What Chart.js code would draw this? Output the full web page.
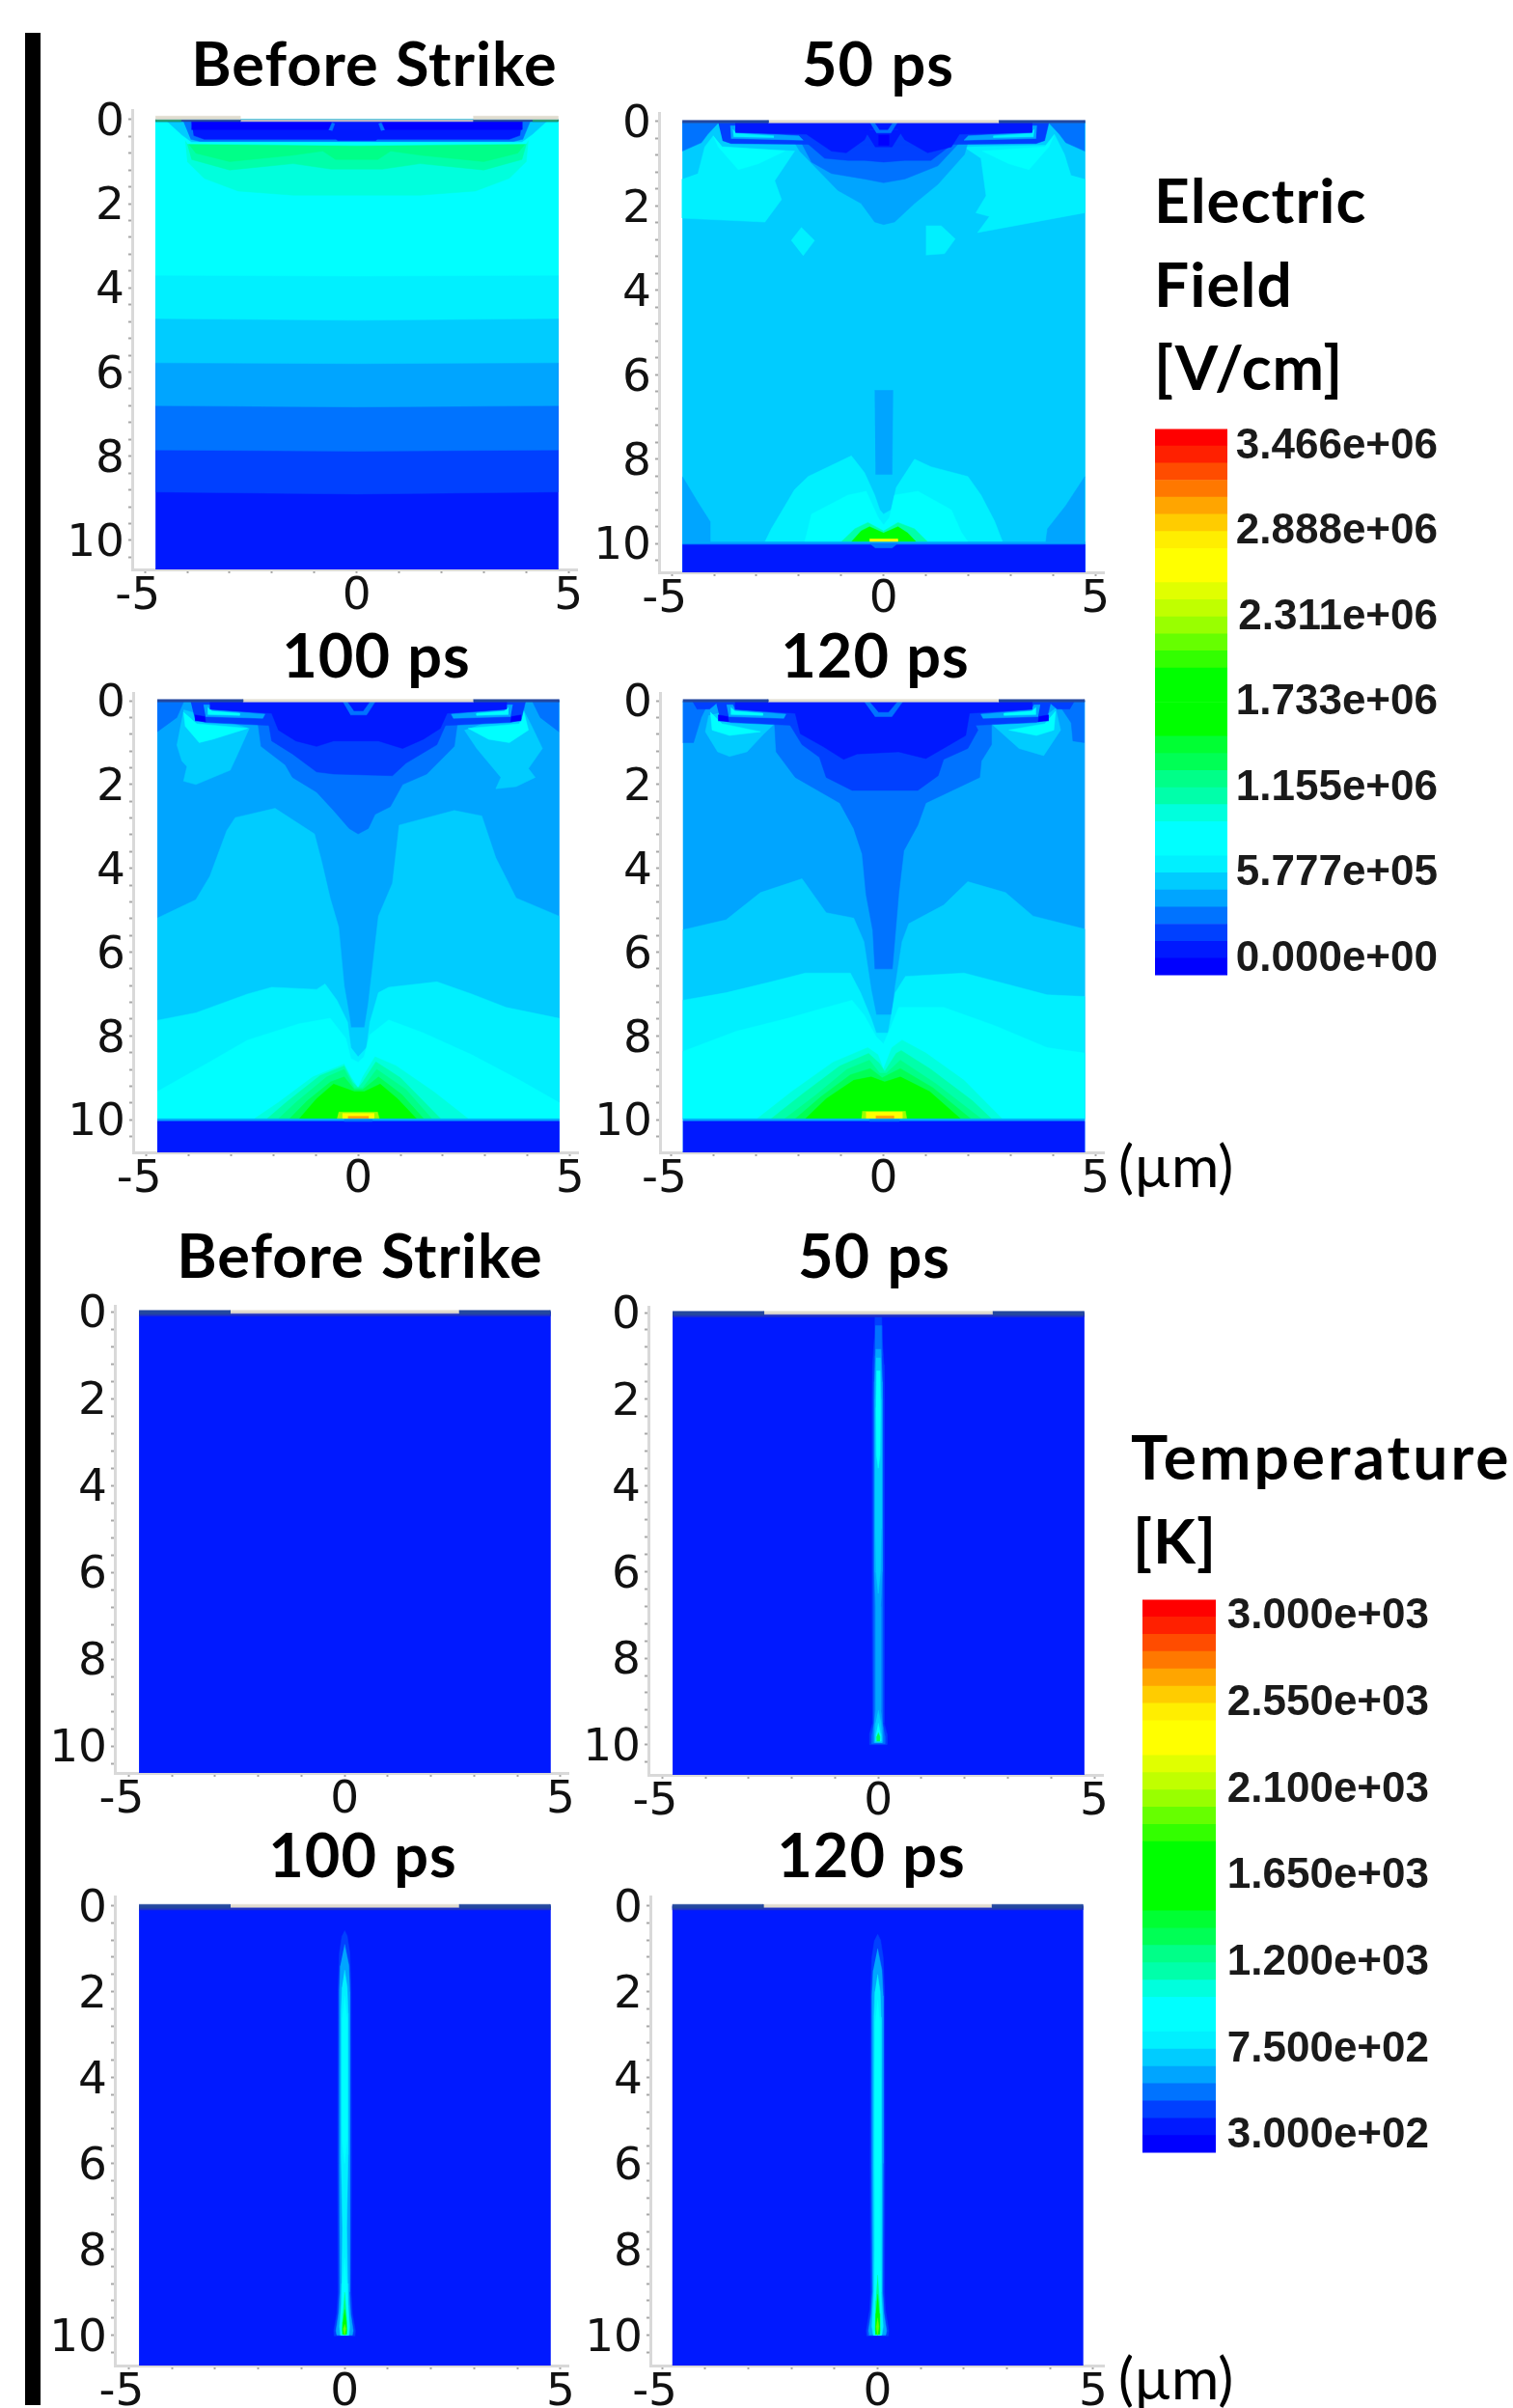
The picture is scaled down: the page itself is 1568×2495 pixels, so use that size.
<!DOCTYPE html>
<html>
<head>
<meta charset="utf-8">
<title>Electric field and temperature</title>
<script src="https://cdn.jsdelivr.net/npm/chart.js@4"></script>
<style>
  html, body { margin: 0; padding: 0; background: #fff; }
  body { position: relative; width: 1568px; height: 2495px; overflow: hidden; }
  canvas { position: absolute; filter: blur(0.6px); }
  .label { position: absolute; white-space: nowrap; color: #000; font-family: Lato, sans-serif; transform: translateY(-50%); filter: blur(0.4px); }
  .title { font-weight: 700; font-size: 63px; letter-spacing: 1px; word-spacing: 1px; transform: translate(-50%, -50%); }
  .heading { font-weight: 700; font-size: 64px; letter-spacing: 1px; }
  .wide { font-weight: 700; font-size: 64px; letter-spacing: 3px; }
  .unit { font-size: 60px; }
  #bar { position: absolute; left: 26px; top: 34px; width: 16px; height: 2458px; background: #000; }
</style>
</head>
<body>
<div id="bar"></div>
<script>
// colour bands of the scale, lowest first
const bandColors = ['#0000ff', '#0019ff', '#0040ff', '#0073ff', '#00a5ff', '#00ccff', '#00f0ff', '#00ffff',
  '#00ffff', '#00ffdd', '#00ffaa', '#00ff88', '#00ff55', '#00ff33', '#00ff00', '#00ff00',
  '#00ff00', '#00ff00', '#33ff00', '#66ff00', '#99ff00', '#c0ff00', '#e0ff00', '#ffff00',
  '#ffff00', '#ffee00', '#ffcc00', '#ffa500', '#ff7800', '#ff4c00', '#ff2000', '#ff0000'];
const surfaceColors = { oxide: '#e0dccf', steel: '#b6b6c6', metal: '#24489f', contact: '#1e9a70', liner: '#1f30c4' };

const efBandEdges = [-123750, -8314, 107122, 222558, 337994, 453430, 568866, 684302, 799738, 915174, 1030610,
  1146046, 1261482, 1376918, 1492354, 1607790, 1723226, 1838662, 1954098, 2069534, 2184970, 2300406, 2415842,
  2531278, 2646714, 2762150, 2877586, 2993022, 3108458, 3223894, 3339330, 3454766, 3570202];
const efTickValues = [0, 577700, 1155000, 1733000, 2311000, 2888000, 3466000];
const efTickLabels = ['0.000e+00', '5.777e+05', '1.155e+06', '1.733e+06', '2.311e+06', '2.888e+06', '3.466e+06'];

const tempBandEdges = [202, 292, 382, 472, 562, 652, 742, 832, 922, 1012, 1101, 1191, 1281, 1371, 1461, 1551, 1641,
  1731, 1821, 1911, 2001, 2090, 2180, 2270, 2360, 2450, 2540, 2630, 2720, 2810, 2900, 2990, 3080];
const tempTickValues = [300, 750, 1200, 1650, 2100, 2550, 3000];
const tempTickLabels = ['3.000e+02', '7.500e+02', '1.200e+03', '1.650e+03', '2.100e+03', '2.550e+03', '3.000e+03'];

const xTicks = [-5, -4, -3, -2, -1, 0, 1, 2, 3, 4, 5];
const xTickLabels = [-5, 0, 5];
const yTicks = [0, 0.4, 0.8, 1.2, 1.6, 2, 2.4, 2.8, 3.2, 3.6, 4, 4.4, 4.8, 5.2, 5.6, 6, 6.4, 6.8, 7.2, 7.6, 8, 8.4, 8.8, 9.2, 9.6, 10, 10.4];
const yTickLabels = [0, 2, 4, 6, 8, 10];

// contours: [band or surface, [x, y, x, y ...]] in micrometres, painted first to last
const efBeforeContours = [
  [1, [-4.75, 0, 4.75, 0, 4.75, 10.69, -4.75, 10.69]],
  [2, [-4.75, 0, 4.75, 0, 4.75, 8.85, 0, 8.9, -4.75, 8.85]],
  [3, [-4.75, 0, 4.75, 0, 4.75, 7.85, 0, 7.88, -4.75, 7.85]],
  [4, [-4.75, 0, 4.75, 0, 4.75, 6.8, 0, 6.83, -4.75, 6.8]],
  [5, [-4.75, 0, 4.75, 0, 4.75, 5.78, 0, 5.8, -4.75, 5.78]],
  [6, [-4.75, 0, 4.75, 0, 4.75, 4.73, 0, 4.77, -4.75, 4.73]],
  [7, [-4.75, 0, 4.75, 0, 4.75, 3.7, 0, 3.72, -4.75, 3.7]],
  [9, [-4.05, 0.5, 4.05, 0.5, 4, 1, 3.6, 1.4, 2.8, 1.7, 1.5, 1.8, 0, 1.8, -1.5, 1.8, -2.8, 1.7, -3.6, 1.4, -4, 1]],
  [10, [-4.02, 0.52, 4.02, 0.52, 3.9, 0.95, 3, 1.2, 1.5, 1.05, 0.6, 1.18, -0.6, 1.18, -1.5, 1.05, -3, 1.2, -3.9, 0.95]],
  [11, [-4, 0.55, 4, 0.55, 3.8, 0.8, 3, 1, 1.5, 0.85, 0.8, 0.75, 0.5, 0.95, -0.5, 0.95, -0.8, 0.75, -1.5, 0.85, -3, 1, -3.8, 0.8]],
  [7, [-4.1, 0.4, 4.1, 0.4, 4, 0.58, 0, 0.62, -4, 0.58]],
  [5, [-4.5, 0.03, 4.5, 0.03, 4.15, 0.35, 3.9, 0.53, -3.9, 0.53, -4.15, 0.35]],
  [3, [-4.1, 0.03, 4.1, 0.03, 3.92, 0.47, 3.7, 0.52, -3.7, 0.52, -3.92, 0.47]],
  [1, [-3.9, 0.03, 3.9, 0.03, 3.85, 0.38, 3.6, 0.47, -3.6, 0.47, -3.85, 0.38]],
  [0, [-3.9, 0.03, 3.9, 0.03, 3.9, 0.24, -3.9, 0.24]],
  [1, [-0.6, 0.05, 0.6, 0.05, 0.65, 0.3, 0.45, 0.5, -0.45, 0.5, -0.65, 0.3]],
  [3, [-0.66, 0.25, -0.58, 0.08, -0.52, 0.1, -0.58, 0.27]],
  [3, [0.66, 0.25, 0.58, 0.08, 0.52, 0.1, 0.58, 0.27]],
  ['steel', [-2.75, 0, 2.75, 0, 2.75, 0.05, -2.75, 0.05]],
  ['metal', [-4.75, 0, -2.75, 0, -2.75, 0.05, -4.75, 0.05]],
  ['metal', [2.75, 0, 4.75, 0, 4.75, 0.05, 2.75, 0.05]],
  ['contact', [-4.75, 0, -4.15, 0, -4.15, 0.05, -4.75, 0.05]],
  ['contact', [4.15, 0, 4.75, 0, 4.75, 0.05, 4.15, 0.05]],
  ['oxide', [-4.75, -0.08, -2.75, -0.08, -2.75, 0, -4.75, 0]],
  ['oxide', [2.75, -0.08, 4.75, -0.08, 4.75, 0, 2.75, 0]]
];

const ef50Contours = [
  [5, [-4.75, 0, 4.75, 0, 4.75, 10.68, -4.75, 10.68]],
  [4, [-4.75, 8.41, -4.38, 9.03, -4.1, 9.47, -4.1, 9.96, -4.75, 9.96]],
  [4, [4.75, 8.41, 4.3, 9.1, 3.87, 9.65, 3.83, 9.96, 4.75, 9.96]],
  [6, [-2.8, 9.96, -2.65, 9.65, -2.1, 8.72, -1.78, 8.41, -0.76, 7.92, -0.45, 8.32, -0.21, 8.85, -0.09, 9.2, 0, 9.3, 0.18, 9.2, 0.3, 8.67, 0.73, 8, 1.12, 8.18, 1.99, 8.41, 2.3, 8.85, 2.62, 9.47, 2.81, 9.96]],
  [7, [-1.86, 9.96, -1.7, 9.3, -0.84, 8.85, -0.41, 8.76, -0.13, 9.38, 0, 9.56, 0.14, 9.38, 0.26, 8.85, 0.81, 8.76, 1.6, 9.2, 1.83, 9.72, 1.99, 9.96]],
  [10, [-1, 9.96, -0.68, 9.65, -0.37, 9.5, 0, 9.7, 0.34, 9.5, 0.73, 9.65, 1.04, 9.96]],
  [14, [-0.76, 9.96, -0.53, 9.7, -0.33, 9.6, 0, 9.75, 0.34, 9.6, 0.57, 9.75, 0.77, 9.96]],
  [23, [-0.33, 9.89, 0.33, 9.89, 0.33, 10, -0.33, 10]],
  [4, [-4.75, 9.96, 4.75, 9.96, 4.75, 10.02, -4.75, 10.02]],
  [1, [-4.75, 10.02, 4.75, 10.02, 4.75, 10.68, -4.75, 10.68]],
  [3, [-0.33, 10, 0.33, 10, 0.2, 10.1, -0.2, 10.1]],
  [4, [-0.21, 6.37, 0.22, 6.37, 0.2, 8.36, -0.19, 8.36]],
  [6, [-2.18, 2.82, -1.94, 2.51, -1.63, 2.82, -1.9, 3.18]],
  [6, [1, 2.47, 1.36, 2.47, 1.69, 2.78, 1.44, 3.13, 1, 3.16]],
  [6, [-4.75, 1.36, -4.75, 2.29, -2.8, 2.38, -2.41, 1.85, -2.57, 1.4, -2.1, 0.7, -3.83, 0.6, -4.02, 0.34, -4.22, 0.6, -4.38, 1.23]],
  [6, [4.75, 1.36, 4.75, 2.16, 2.22, 2.63, 2.5, 2.25, 2.18, 2.16, 2.42, 1.76, 2.3, 0.87, 1.9, 0.6, 3.83, 0.56, 4.03, 0.3, 4.27, 0.78, 4.42, 1.27]],
  [7, [-4.02, 0.34, -3.9, 0.6, -3.43, 1.14, -2.96, 1, -2.33, 0.7, -3.8, 0.6]],
  [7, [4.02, 0.34, 3.9, 0.6, 3.43, 1.14, 2.96, 1, 2.33, 0.7, 3.8, 0.6]],
  [3, [-4.75, 0.03, -3.9, 0.03, -4.15, 0.3, -4.3, 0.5, -4.75, 0.7]],
  [3, [4.75, 0.03, 3.9, 0.03, 4.15, 0.3, 4.3, 0.5, 4.75, 0.7]],
  [4, [-2.1, 0.5, -1.98, 0.7, -1.08, 1.63, -0.53, 1.94, -0.21, 2.38, 0, 2.44, 0.26, 2.38, 0.73, 1.94, 1.28, 1.49, 1.91, 0.78, 1.99, 0.5]],
  [3, [-1.94, 0.5, -1.7, 0.96, -1.23, 1.23, -0.45, 1.36, 0, 1.45, 0.5, 1.36, 1.28, 1.05, 1.79, 0.5]],
  [2, [-1.82, 0.5, -1.39, 0.87, -0.84, 0.92, -0.45, 0.92, 0, 0.96, 0.5, 0.92, 1.12, 0.92, 1.67, 0.5]],
  [2, [-3.9, 0.03, 3.9, 0.03, 3.8, 0.45, 3.6, 0.52, 1.8, 0.54, -1.8, 0.54, -3.6, 0.52, -3.8, 0.45]],
  [4, [-3.62, 0.1, -3.5, 0.1, -3.48, 0.26, -2, 0.34, -1.9, 0.44, -3.6, 0.4]],
  [4, [3.62, 0.1, 3.5, 0.1, 3.48, 0.26, 2, 0.34, 1.9, 0.44, 3.6, 0.4]],
  [6, [-3.56, 0.18, -3.48, 0.28, -2.6, 0.34, -2.6, 0.38, -3.54, 0.36]],
  [6, [3.56, 0.18, 3.48, 0.28, 2.6, 0.34, 2.6, 0.38, 3.54, 0.36]],
  [1, [-3.5, 0.03, 3.5, 0.03, 3.5, 0.26, 1.79, 0.3, 1.6, 0.6, 1.04, 0.74, 0.5, 0.43, 0.34, 0.18, -0.33, 0.18, -0.45, 0.43, -0.88, 0.74, -1.23, 0.7, -1.82, 0.3, -3.5, 0.26]],
  [1, [-0.45, 0.2, 0.45, 0.2, 0.2, 0.6, -0.2, 0.6]],
  [3, [-0.32, 0.03, 0.32, 0.03, 0.17, 0.27, -0.17, 0.27]],
  [1, [-0.2, 0.04, 0.2, 0.04, 0.1, 0.19, -0.1, 0.19]],
  [0, [-0.12, 0.32, 0.12, 0.32, 0.12, 0.56, -0.12, 0.56]],
  ['oxide', [-2.72, -0.03, 2.72, -0.03, 2.72, 0.03, -2.72, 0.03]],
  ['metal', [-4.75, -0.03, -2.72, -0.03, -2.72, 0.03, -4.75, 0.03]],
  ['metal', [2.72, -0.03, 4.75, -0.03, 4.75, 0.03, 2.72, 0.03]]
];

const ef100Contours = [
  [4, [-4.74, 0, 4.74, 0, 4.74, 10.78, -4.74, 10.78]],
  [5, [-4.74, 5.19, -3.83, 4.75, -3.5, 4.19, -3.1, 3.1, -2.9, 2.79, -1.96, 2.57, -1.03, 3.18, -0.86, 3.84, -0.66, 4.71, -0.46, 5.4, -0.33, 6.8, -0.21, 7.5, -0.17, 7.8, 0.15, 7.8, 0.24, 7.23, 0.48, 5.14, 0.81, 4.36, 0.97, 2.97, 2.27, 2.62, 2.92, 2.75, 3.25, 3.75, 3.73, 4.71, 4.74, 5.14, 4.74, 9.98, -4.74, 9.98]],
  [6, [-4.74, 7.63, -3.83, 7.45, -2.61, 7, -2.04, 6.84, -0.98, 6.89, -0.78, 6.76, -0.5, 7.15, -0.25, 7.67, -0.17, 8.28, 0, 8.5, 0.2, 8.28, 0.28, 7.67, 0.48, 6.97, 0.72, 6.84, 1.86, 6.71, 2.68, 7, 3.49, 7.32, 4.74, 7.58, 4.74, 9.98, -4.74, 9.98]],
  [7, [-4.74, 9.33, -3.59, 8.67, -2.61, 8.1, -1.39, 7.71, -0.66, 7.58, -0.29, 8.06, -0.17, 8.54, 0, 8.63, 0.14, 8.5, 0.28, 7.97, 0.72, 7.62, 1.54, 7.93, 2.68, 8.45, 3.82, 9.06, 4.74, 9.59, 4.74, 9.98, -4.74, 9.98]],
  [9, [-2.45, 9.98, -1.88, 9.59, -1.07, 8.98, -0.33, 8.67, -0.17, 8.98, 0, 9.24, 0.11, 8.98, 0.4, 8.5, 0.89, 8.71, 1.78, 9.33, 2.6, 9.98]],
  [10, [-2.15, 9.98, -1.7, 9.59, -0.9, 8.95, -0.33, 8.72, -0.13, 9.1, 0, 9.24, 0.11, 9.1, 0.42, 8.62, 1, 9, 1.95, 9.98]],
  [11, [-1.88, 9.98, -1.47, 9.59, -0.74, 8.98, -0.33, 8.8, -0.09, 9.24, 0.11, 9.24, 0.44, 8.8, 1.13, 9.28, 1.74, 9.98]],
  [12, [-1.62, 9.98, -1.2, 9.55, -0.65, 9.1, -0.33, 8.98, -0.09, 9.28, 0.11, 9.28, 0.48, 8.98, 1.03, 9.4, 1.55, 9.98]],
  [14, [-1.39, 9.98, -0.98, 9.5, -0.58, 9.15, -0.09, 9.33, 0.15, 9.33, 0.52, 9.15, 0.93, 9.5, 1.38, 9.98]],
  [20, [-0.46, 9.82, 0.46, 9.82, 0.5, 9.98, -0.5, 9.98]],
  [23, [-0.37, 9.85, 0.37, 9.85, 0.37, 9.98, -0.37, 9.98]],
  [27, [-0.24, 9.92, 0.24, 9.92, 0.24, 9.98, -0.24, 9.98]],
  [4, [-4.74, 9.98, 4.74, 9.98, 4.74, 10.04, -4.74, 10.04]],
  [1, [-4.74, 10.04, 4.74, 10.04, 4.74, 10.78, -4.74, 10.78]],
  [3, [-0.33, 10, 0.33, 10, 0.33, 10.04, -0.33, 10.04]],
  [5, [-4.28, 1.05, -4.16, 1.44, -4.04, 1.57, -4.12, 1.92, -3.83, 2, -3.02, 1.66, -2.86, 1.31, -2.57, 0.66, -4.12, 0.22]],
  [5, [3.9, 0.22, 4.1, 0.61, 4.35, 1.14, 4.02, 1.62, 4.18, 1.83, 3.73, 2.05, 3.25, 2.1, 3.37, 1.83, 2.8, 1.14, 2.51, 0.7]],
  [7, [-4.12, 0.27, -4.08, 0.61, -3.75, 1, -3.43, 0.92, -2.61, 0.66, -3.8, 0.55]],
  [7, [3.9, 0.22, 4.02, 0.7, 3.57, 1, 3.08, 0.92, 2.6, 0.66, 3.8, 0.55]],
  [3, [-4.74, 0.03, -4.12, 0.03, -4.28, 0.4, -4.74, 0.74]],
  [3, [4.74, 0.03, 4.12, 0.03, 4.3, 0.4, 4.74, 0.74]],
  [3, [-2.37, 0.5, -2.29, 1.09, -1.72, 1.53, -1.55, 1.83, -0.98, 2.18, -0.58, 2.62, -0.21, 3.05, 0, 3.18, 0.24, 3.05, 0.4, 2.71, 0.76, 2.53, 1.05, 2, 1.62, 1.75, 2.27, 1.09, 2.35, 0.5]],
  [2, [-2.12, 0.5, -2.04, 0.96, -1.55, 1.27, -0.98, 1.7, -0.58, 1.75, 0.81, 1.79, 1.13, 1.49, 1.86, 1.05, 2.1, 0.5]],
  [2, [-3.95, 0.03, 3.95, 0.03, 3.85, 0.45, 3.6, 0.52, 1.9, 0.6, -1.9, 0.6, -3.6, 0.52, -3.85, 0.45]],
  [4, [-3.65, 0.1, -3.5, 0.1, -3.45, 0.22, -2.2, 0.32, -2.25, 0.42, -3.6, 0.38]],
  [4, [3.65, 0.1, 3.5, 0.1, 3.45, 0.22, 2.2, 0.32, 2.25, 0.42, 3.6, 0.38]],
  [7, [-3.55, 0.16, -3.45, 0.25, -2.8, 0.3, -2.8, 0.35, -3.55, 0.33]],
  [7, [3.55, 0.16, 3.45, 0.25, 2.8, 0.3, 2.8, 0.35, 3.55, 0.33]],
  [0, [-3.85, 0.34, -3.62, 0.38, -3.6, 0.5, -3.85, 0.48]],
  [0, [3.85, 0.34, 3.62, 0.38, 3.6, 0.5, 3.85, 0.48]],
  [1, [-3.5, 0.03, 3.5, 0.03, 3.5, 0.2, 2.1, 0.3, 1.94, 0.66, 1.54, 0.92, 1.05, 1.14, 0.48, 0.96, -0.58, 0.96, -0.98, 1.09, -1.47, 0.96, -1.88, 0.7, -2.04, 0.3, -3.5, 0.2]],
  [3, [-0.36, 0.03, 0.4, 0.03, 0.2, 0.34, -0.18, 0.34]],
  [1, [-0.25, 0.03, 0.27, 0.03, 0.12, 0.24, -0.1, 0.24]],
  ['oxide', [-2.72, -0.03, 2.72, -0.03, 2.72, 0.03, -2.72, 0.03]],
  ['metal', [-4.74, -0.03, -2.72, -0.03, -2.72, 0.03, -4.74, 0.03]],
  ['metal', [2.72, -0.03, 4.74, -0.03, 4.74, 0.03, 2.72, 0.03]]
];

const ef120Contours = [
  [4, [-4.73, 0, 4.74, 0, 4.74, 10.78, -4.73, 10.78]],
  [5, [-4.73, 5.47, -3.71, 5.23, -2.9, 4.58, -1.92, 4.25, -1.35, 5.06, -0.7, 5.19, -0.46, 5.75, -0.29, 6.89, -0.17, 7.5, 0.2, 7.5, 0.28, 6.8, 0.44, 5.75, 0.6, 5.32, 1.42, 4.88, 1.99, 4.32, 2.88, 4.58, 3.53, 5.14, 4.74, 5.45, 4.74, 9.98, -4.73, 9.98]],
  [6, [-4.73, 7.15, -3.71, 6.97, -2.65, 6.71, -1.84, 6.5, -0.78, 6.5, -0.54, 6.97, -0.29, 7.58, -0.17, 7.93, 0.11, 7.93, 0.28, 6.97, 0.52, 6.58, 1.9, 6.5, 3.04, 6.8, 3.86, 7.02, 4.74, 7.06, 4.74, 9.98, -4.73, 9.98]],
  [7, [-4.73, 8.37, -3.47, 7.89, -2.25, 7.58, -1.35, 7.32, -0.74, 7.15, -0.46, 7.5, -0.17, 8.02, 0, 8.19, 0.15, 7.85, 0.36, 7.32, 1.42, 7.32, 2.64, 7.76, 3.86, 8.28, 4.74, 8.41, 4.74, 9.98, -4.73, 9.98]],
  [9, [-2.98, 9.98, -2.16, 9.33, -1.19, 8.63, -0.37, 8.28, -0.13, 8.45, 0, 8.8, 0.2, 8.28, 0.44, 8.1, 1, 8.41, 1.9, 9.06, 2.8, 9.98]],
  [10, [-2.65, 9.98, -1.9, 9.38, -1.03, 8.72, -0.35, 8.42, -0.1, 8.65, 0.03, 8.85, 0.3, 8.42, 0.42, 8.35, 1.12, 8.8, 2.1, 9.55, 2.55, 9.98]],
  [11, [-2.33, 9.98, -1.59, 9.41, -0.86, 8.8, -0.33, 8.58, -0.09, 8.89, 0.07, 8.89, 0.4, 8.58, 1.25, 9.15, 2.31, 9.98]],
  [12, [-2.08, 9.98, -1.47, 9.45, -0.78, 8.93, -0.31, 8.78, -0.03, 9, 0.4, 8.78, 1.17, 9.24, 2.06, 9.98]],
  [14, [-1.84, 9.98, -1.35, 9.5, -0.7, 9.06, -0.29, 8.98, 0.03, 9.1, 0.4, 8.98, 1.09, 9.33, 1.82, 9.98]],
  [20, [-0.5, 9.8, 0.52, 9.8, 0.55, 9.98, -0.52, 9.98]],
  [23, [-0.41, 9.82, 0.44, 9.82, 0.44, 9.98, -0.41, 9.98]],
  [27, [-0.18, 9.91, 0.24, 9.91, 0.24, 9.98, -0.18, 9.98]],
  [4, [-4.73, 9.98, 4.74, 9.98, 4.74, 10.04, -4.73, 10.04]],
  [1, [-4.73, 10.04, 4.74, 10.04, 4.74, 10.78, -4.73, 10.78]],
  [3, [-0.33, 10, 0.37, 10, 0.37, 10.04, -0.33, 10.04]],
  [5, [-4.12, 0.35, -4.2, 0.74, -3.91, 1.22, -3.63, 1.33, -3.22, 1.22, -2.82, 0.79, -2.57, 0.55, -3.9, 0.3]],
  [5, [4.06, 0.18, 4.18, 0.7, 3.78, 1.31, 3.2, 1.14, 2.55, 0.55, 3.9, 0.3]],
  [7, [-4.08, 0.27, -4.04, 0.7, -3.63, 0.83, -2.9, 0.74, -3.8, 0.55]],
  [7, [4.06, 0.25, 4.02, 0.7, 3.61, 0.83, 2.96, 0.7, 3.8, 0.55]],
  [3, [-4.73, 0.03, -4.12, 0.03, -4.3, 0.4, -4.48, 1, -4.73, 1]],
  [3, [4.74, 0.03, 4.1, 0.03, 4.43, 0.53, 4.47, 0.96, 4.74, 1]],
  [2, [-4.5, 0.03, -3.9, 0.03, -4.1, 0.2, -4.4, 0.2]],
  [2, [4.5, 0.03, 3.9, 0.03, 4.1, 0.2, 4.4, 0.2]],
  [3, [-2.57, 0.5, -2.53, 1.22, -2.08, 1.83, -1.03, 2.44, -0.7, 3.05, -0.5, 3.66, -0.41, 4.62, -0.25, 5.49, -0.2, 6.4, 0.21, 6.4, 0.36, 4.62, 0.48, 3.58, 0.81, 2.97, 1, 2.44, 2.27, 1.83, 2.31, 1.44, 2.55, 1.05, 2.55, 0.5]],
  [2, [-2.25, 0.5, -1.92, 1.05, -1.51, 1.35, -1.35, 1.83, -0.74, 2.14, 0.81, 2.14, 1.29, 1.79, 1.42, 1.4, 1.99, 1.14, 2.23, 0.7, 2.1, 0.44]],
  [2, [-3.95, 0.03, 3.95, 0.03, 3.85, 0.45, 3.6, 0.52, 1.9, 0.6, -1.9, 0.6, -3.6, 0.52, -3.85, 0.45]],
  [4, [-3.7, 0.1, -3.55, 0.1, -3.5, 0.22, -2.3, 0.32, -2.35, 0.42, -3.65, 0.38]],
  [4, [3.7, 0.1, 3.55, 0.1, 3.5, 0.22, 2.3, 0.32, 2.35, 0.42, 3.65, 0.38]],
  [7, [-3.6, 0.16, -3.5, 0.25, -2.85, 0.3, -2.85, 0.35, -3.6, 0.33]],
  [7, [3.6, 0.16, 3.5, 0.25, 2.85, 0.3, 2.85, 0.35, 3.6, 0.33]],
  [0, [-3.9, 0.34, -3.67, 0.38, -3.65, 0.5, -3.9, 0.48]],
  [0, [3.9, 0.34, 3.67, 0.38, 3.65, 0.5, 3.9, 0.48]],
  [1, [-3.5, 0.03, 3.5, 0.03, 3.5, 0.2, 2.03, 0.3, 1.94, 0.83, 1.5, 1.09, 1, 1.38, 0.36, 1.22, -0.62, 1.27, -0.94, 1.4, -1.43, 1.09, -1.96, 0.79, -2.08, 0.3, -3.5, 0.2]],
  [3, [-0.45, 0.03, 0.45, 0.03, 0.2, 0.38, -0.2, 0.38]],
  [1, [-0.32, 0.03, 0.32, 0.03, 0.12, 0.27, -0.12, 0.27]],
  ['oxide', [-2.72, -0.03, 2.72, -0.03, 2.72, 0.03, -2.72, 0.03]],
  ['metal', [-4.73, -0.03, -2.72, -0.03, -2.72, 0.03, -4.73, 0.03]],
  ['metal', [2.72, -0.03, 4.74, -0.03, 4.74, 0.03, 2.72, 0.03]]
];

const tempSurface = [
  ['liner', [-4.76, 0.02, 4.76, 0.02, 4.76, 0.1, -4.76, 0.1]],
  ['oxide', [-2.65, -0.03, 2.65, -0.03, 2.65, 0.04, -2.65, 0.04]],
  ['metal', [-4.76, -0.03, -2.65, -0.03, -2.65, 0.06, -4.76, 0.06]],
  ['metal', [2.65, -0.03, 4.76, -0.03, 4.76, 0.06, 2.65, 0.06]]
];

const tempBeforeContours = [
  [1, [-4.76, 0, 4.76, 0, 4.76, 10.62, -4.76, 10.62]]
];

const temp50Contours = [
  [1, [-4.76, 0, 4.76, 0, 4.76, 10.7, -4.76, 10.7]],
  [2, [-0.08, 0.1, 0.08, 0.1, 0.09, 0.6, 0.13, 1.2, 0.14, 2, 0.14, 7, 0.13, 9.5, 0.2, 9.75, 0.2, 10, -0.2, 10, -0.2, 9.75, -0.13, 9.5, -0.14, 7, -0.14, 2, -0.13, 1.2, -0.09, 0.6]],
  [3, [-0.07, 0.3, 0.07, 0.3, 0.08, 1, 0.1, 2, 0.1, 8.8, 0.1, 9.5, 0.15, 9.8, 0.15, 9.98, -0.15, 9.98, -0.15, 9.8, -0.1, 9.5, -0.1, 8.8, -0.1, 2, -0.08, 1]],
  [4, [-0.06, 0.85, 0.06, 0.85, 0.09, 1.6, 0.09, 6, 0.06, 6.8, 0.06, 9.2, 0.1, 9.6, 0.1, 9.95, -0.1, 9.95, -0.1, 9.6, -0.06, 9.2, -0.06, 6.8, -0.09, 6, -0.09, 1.6]],
  [5, [-0.05, 1.05, 0.05, 1.05, 0.07, 2, 0.07, 5, 0.05, 6, 0, 6.5, -0.05, 6, -0.07, 5, -0.07, 2]],
  [5, [0, 9.2, 0.06, 9.5, 0.08, 9.8, 0.08, 9.95, -0.08, 9.95, -0.08, 9.8, -0.06, 9.5]],
  [7, [-0.04, 1.35, 0.04, 1.35, 0.05, 2.2, 0.04, 3.3, 0, 3.6, -0.04, 3.3, -0.05, 2.2]],
  [7, [0, 9.5, 0.05, 9.75, 0.06, 9.92, -0.06, 9.92, -0.05, 9.75]],
  [12, [0, 9.72, 0.04, 9.82, 0.03, 9.92, -0.03, 9.92, -0.04, 9.82]]
];

const temp100Contours = [
  [1, [-4.76, 0, 4.76, 0, 4.76, 10.71, -4.76, 10.71]],
  [2, [0, 0.58, 0.06, 0.7, 0.12, 1.1, 0.15, 2, 0.16, 6, 0.15, 9, 0.18, 9.5, 0.25, 9.9, 0.24, 10.02, -0.24, 10.02, -0.25, 9.9, -0.18, 9.5, -0.15, 9, -0.16, 6, -0.15, 2, -0.12, 1.1, -0.06, 0.7]],
  [4, [0, 0.9, 0.1, 1.4, 0.12, 2, 0.12, 6, 0.11, 9, 0.14, 9.5, 0.2, 9.9, 0.18, 10, -0.18, 10, -0.2, 9.9, -0.14, 9.5, -0.11, 9, -0.12, 6, -0.12, 2, -0.1, 1.4]],
  [6, [0, 1.5, 0.06, 1.9, 0.08, 2.5, 0.08, 5.8, 0.05, 7.5, 0.07, 8.8, 0.08, 9.3, 0.12, 9.8, 0.1, 10, -0.1, 10, -0.12, 9.8, -0.08, 9.3, -0.07, 8.8, -0.05, 7.5, -0.08, 5.8, -0.08, 2.5, -0.06, 1.9]],
  [7, [0, 2.1, 0.05, 2.6, 0.06, 4, 0.05, 5.5, 0, 6, -0.05, 5.5, -0.06, 4, -0.05, 2.6]],
  [7, [0, 8.2, 0.05, 8.8, 0.07, 9.3, 0.08, 10, -0.08, 10, -0.07, 9.3, -0.05, 8.8]],
  [11, [0, 9, 0.04, 9.5, 0.06, 9.9, 0, 10, -0.06, 9.9, -0.04, 9.5]],
  [14, [0, 9.4, 0.04, 9.7, 0.05, 9.98, -0.05, 9.98, -0.04, 9.7]],
  [19, [0, 9.75, 0.03, 9.85, 0, 10, -0.03, 9.85]]
];

const temp120Contours = [
  [1, [-4.76, 0, 4.76, 0, 4.76, 10.71, -4.76, 10.71]],
  [2, [0, 0.66, 0.07, 0.8, 0.13, 1.2, 0.16, 2, 0.17, 6, 0.16, 9, 0.18, 9.4, 0.26, 9.9, 0.25, 10.02, -0.25, 10.02, -0.26, 9.9, -0.18, 9.4, -0.16, 9, -0.17, 6, -0.16, 2, -0.13, 1.2, -0.07, 0.8]],
  [4, [0, 1, 0.1, 1.5, 0.13, 2.1, 0.13, 6, 0.12, 9, 0.15, 9.5, 0.21, 9.9, 0.19, 10, -0.19, 10, -0.21, 9.9, -0.15, 9.5, -0.12, 9, -0.13, 6, -0.13, 2.1, -0.1, 1.5]],
  [6, [0, 1.6, 0.06, 2, 0.08, 2.6, 0.09, 6, 0.08, 8, 0.09, 9, 0.13, 9.8, 0.1, 10, -0.1, 10, -0.13, 9.8, -0.09, 9, -0.08, 8, -0.09, 6, -0.08, 2.6, -0.06, 2]],
  [7, [0, 2.2, 0.05, 2.7, 0.06, 4, 0.06, 6, 0.05, 7, 0.06, 8.5, 0.07, 9.3, 0.08, 10, -0.08, 10, -0.07, 9.3, -0.06, 8.5, -0.05, 7, -0.06, 6, -0.06, 4, -0.05, 2.7]],
  [11, [0, 8.6, 0.04, 9.2, 0.06, 9.9, 0, 10, -0.06, 9.9, -0.04, 9.2]],
  [14, [0, 9.05, 0.04, 9.5, 0.05, 9.98, -0.05, 9.98, -0.04, 9.5]],
  [19, [0, 9.6, 0.03, 9.8, 0, 10, -0.03, 9.8]]
];

// page placement of every panel axis frame: left, right, top, bottom and the scale limits they stand for
const panels = [
  { contours: efBeforeContours, box: [136.5, 597, 112, 590], xr: [-5.3, 5.2], yr: [-0.22, 10.69] },
  { contours: ef50Contours, box: [683, 1144, 115, 593], xr: [-5.3, 5.2], yr: [-0.2, 10.68] },
  { contours: ef100Contours, box: [138, 599, 716, 1194], xr: [-5.31, 5.19], yr: [-0.18, 10.78] },
  { contours: ef120Contours, box: [683.6, 1143, 716, 1194], xr: [-5.27, 5.2], yr: [-0.18, 10.78] },
  { contours: tempBeforeContours.concat(tempSurface), box: [119, 588.6, 1351, 1837], xr: [-5.32, 5.18], yr: [-0.13, 10.62] },
  { contours: temp50Contours.concat(tempSurface), box: [672, 1143, 1352, 1839], xr: [-5.32, 5.2], yr: [-0.13, 10.7] },
  { contours: temp100Contours.concat(tempSurface), box: [118.6, 588, 1962.6, 2450], xr: [-5.32, 5.18], yr: [-0.21, 10.71] },
  { contours: temp120Contours.concat(tempSurface), box: [674, 1144, 1962.6, 2450], xr: [-5.27, 5.25], yr: [-0.21, 10.71] }
];

const titles = [
  ['Before Strike', 388, 64], ['50 ps', 910, 64], ['100 ps', 390, 677], ['120 ps', 907, 677],
  ['Before Strike', 373, 1299], ['50 ps', 906, 1299], ['100 ps', 376, 1920], ['120 ps', 903, 1920]
];
const headings = [['Electric', 1196, 206], ['Field', 1196, 293], ['[V/cm]', 1196, 379], ['[K]', 1174, 1595]];
const wideHeadings = [['Temperature', 1172, 1508]];
const units = [['(\u00b5m)', 1159, 1207], ['(\u00b5m)', 1159, 2463]];

Chart.defaults.animation = false;

// chart.js has no closed area for scatter lines, so fill through the parsed points
const closedShapes = {
  id: 'closedShapes',
  beforeDatasetDraw(chart, args) {
    const points = args.meta.data;
    const ctx = chart.ctx;
    ctx.save();
    ctx.beginPath();
    points.forEach((p, i) => (i ? ctx.lineTo(p.x, p.y) : ctx.moveTo(p.x, p.y)));
    ctx.closePath();
    ctx.fillStyle = chart.data.datasets[args.index].backgroundColor;
    ctx.fill();
    ctx.restore();
  }
};

function addCanvas(left, top, width, height) {
  const canvas = document.createElement('canvas');
  canvas.width = width;
  canvas.height = height;
  canvas.style.left = left + 'px';
  canvas.style.top = top + 'px';
  document.body.appendChild(canvas);
  return canvas;
}

function toPoints(flat) {
  const points = [];
  for (let i = 0; i < flat.length; i += 2) {
    points.push({ x: flat[i], y: flat[i + 1] });
  }
  return points;
}

function colorOf(level) {
  return typeof level === 'number' ? bandColors[level] : surfaceColors[level];
}

const tickFont = { family: 'DejaVu Sans', size: 47 };
const AXIS_SIDE = 90, AXIS_FOOT = 62, PAD_TOP = 30, PAD_RIGHT = 40;

function drawPanel(panel) {
  const [left, right, top, bottom] = panel.box;
  const w = right - left, h = bottom - top;
  const canvas = addCanvas(left - AXIS_SIDE, top - PAD_TOP, Math.ceil(AXIS_SIDE + w + PAD_RIGHT), Math.ceil(PAD_TOP + h + AXIS_FOOT));
  const count = panel.contours.length;
  const datasets = panel.contours.map(([level, flat], i) => ({
    data: toPoints(flat),
    showLine: true,
    order: count - i + 2,
    backgroundColor: colorOf(level),
    borderColor: colorOf(level),
    borderWidth: 0.5,
    pointRadius: 0
  }));
  const axisBorder = { color: '#d9d9d9', width: 3 };
  const tickGrid = { drawOnChartArea: false, tickLength: 4, tickColor: '#a8a8a8', tickWidth: 2 };
  new Chart(canvas, {
    type: 'scatter',
    plugins: [closedShapes],
    data: { datasets },
    options: {
      responsive: false,
      layout: { padding: { top: PAD_TOP, right: PAD_RIGHT, left: 0, bottom: 0 } },
      plugins: { legend: { display: false }, tooltip: { enabled: false } },
      scales: {
        x: {
          type: 'linear',
          min: panel.xr[0],
          max: panel.xr[1],
          border: axisBorder,
          grid: tickGrid,
          afterBuildTicks: scale => { scale.ticks = xTicks.map(value => ({ value })); },
          afterFit: scale => { scale.height = AXIS_FOOT; },
          ticks: {
            autoSkip: false, maxRotation: 0, minRotation: 0, padding: -3, color: '#111', font: tickFont,
            callback: v => (xTickLabels.includes(v) ? (v < 0 ? v + '\u00a0' : String(v)) : '')
          }
        },
        y: {
          type: 'linear',
          reverse: true,
          min: panel.yr[0],
          max: panel.yr[1],
          border: axisBorder,
          grid: tickGrid,
          afterBuildTicks: scale => { scale.ticks = yTicks.map(value => ({ value })); },
          afterFit: scale => { scale.width = AXIS_SIDE; },
          ticks: {
            autoSkip: false, padding: 4, labelOffset: 4, color: '#111', font: tickFont,
            callback: v => (yTickLabels.includes(v) ? String(v) : '')
          }
        }
      }
    }
  });
}

function drawColorBar(box, edges, tickValues, tickLabels, labelWidth) {
  const [left, right, top, bottom] = box;
  const canvas = addCanvas(left, top - 30, right - left + labelWidth, bottom - top + 60);
  const datasets = bandColors.map((color, i) => ({
    data: [[edges[i], edges[i + 1]]],
    backgroundColor: color,
    borderWidth: 0,
    barPercentage: 1,
    categoryPercentage: 1,
    grouped: false
  }));
  new Chart(canvas, {
    type: 'bar',
    data: { labels: [''], datasets },
    options: {
      responsive: false,
      layout: { padding: { top: 30, bottom: 30, left: 0, right: 0 } },
      plugins: { legend: { display: false }, tooltip: { enabled: false } },
      scales: {
        x: { display: false },
        y: {
          type: 'linear',
          position: 'right',
          min: edges[0],
          max: edges[edges.length - 1],
          border: { display: false },
          grid: { display: false, drawTicks: false },
          afterBuildTicks: scale => { scale.ticks = tickValues.map(value => ({ value })); },
          afterFit: scale => { scale.width = labelWidth; },
          ticks: {
            autoSkip: false, padding: 4, labelOffset: 2, crossAlign: 'far', color: '#1a1a1a',
            font: { family: 'Liberation Sans', size: 44, weight: 'bold' },
            callback: v => tickLabels[tickValues.indexOf(v)]
          }
        }
      }
    }
  });
}

function addLabels(list, className) {
  for (const [text, x, y] of list) {
    const el = document.createElement('div');
    el.className = 'label ' + className;
    el.textContent = text;
    el.style.left = x + 'px';
    el.style.top = y + 'px';
    document.body.appendChild(el);
  }
}

panels.forEach(drawPanel);
drawColorBar([1197, 1272, 444, 1011], efBandEdges, efTickValues, efTickLabels, 218);
drawColorBar([1184, 1260, 1657, 2231], tempBandEdges, tempTickValues, tempTickLabels, 221);
addLabels(titles, 'title');
addLabels(headings, 'heading');
addLabels(wideHeadings, 'wide');
addLabels(units, 'unit');
</script>
</body>
</html>
